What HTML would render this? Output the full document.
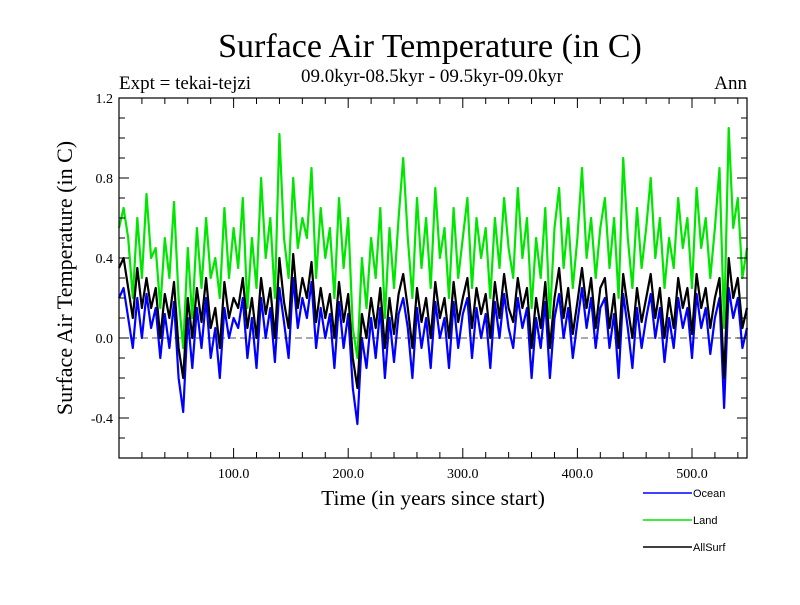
<!DOCTYPE html>
<html><head><meta charset="utf-8"><style>
body{margin:0;background:#fff;width:800px;height:600px;overflow:hidden}
svg text{font-family:"Liberation Serif",serif;fill:#000}
</style></head><body>
<svg id="chart" width="800" height="600" xmlns="http://www.w3.org/2000/svg">
<text x="430" y="57" font-size="34" text-anchor="middle">Surface Air Temperature (in C)</text>
<text x="432" y="82" font-size="19" text-anchor="middle">09.0kyr-08.5kyr - 09.5kyr-09.0kyr</text>
<text x="119" y="89" font-size="19">Expt = tekai-tejzi</text>
<text x="747" y="89" font-size="19" text-anchor="end">Ann</text>
<text transform="translate(72,278) rotate(-90)" font-size="22" text-anchor="middle">Surface Air Temperature (in C)</text>
<text x="433" y="505" font-size="21.5" text-anchor="middle">Time (in years since start)</text>
<g id="plot"></g>
<g id="legend"></g>
</svg>
<script>
const years=[];for(let i=0;i<138;i++)years.push(i*4);
const land=[0.55,0.65,0.5,0.2,0.6,0.3,0.72,0.4,0.45,0.15,0.5,
0.3,0.68,0.2,-0.05,0.45,0.1,0.55,0.25,0.6,0.3,0.4,0.2,0.65,0.3,0.55,
0.35,0.7,0.15,0.5,0.25,0.8,0.4,0.6,0.2,1.02,0.5,0.3,0.8,0.45,0.6,
0.5,0.85,0.3,0.65,0.4,0.55,0.2,0.7,0.35,0.6,0.05,-0.1,0.4,0.15,0.5,
0.3,0.65,0.1,0.55,0.25,0.6,0.9,0.5,0.2,0.7,0.35,0.6,0.25,0.75,0.4,
0.55,0.2,0.65,0.3,0.5,0.7,0.25,0.6,0.4,0.55,0.2,0.6,0.35,0.7,0.45,
0.3,0.75,0.4,0.6,0.15,0.5,0.3,0.65,0.1,0.55,0.75,0.35,0.6,0.25,0.5,
0.85,0.4,0.6,0.3,0.55,0.7,0.35,0.6,0.2,0.9,0.5,0.25,0.65,0.35,0.55,
0.8,0.4,0.6,0.25,0.5,0.35,0.7,0.45,0.6,0.25,0.75,0.45,0.6,0.3,0.55,
0.85,0.05,1.05,0.55,0.7,0.3,0.45];
const ocean=[0.2,0.25,0.1,-0.05,0.2,0.0,0.22,0.05,0.15,-0.1,0.12,
-0.05,0.18,-0.2,-0.37,0.1,-0.15,0.15,-0.05,0.2,-0.1,0.05,-0.2,0.15,0.0,0.1,
0.05,0.2,-0.1,0.1,-0.15,0.2,0.0,0.15,-0.12,0.25,0.08,-0.1,0.3,0.05,0.2,
0.1,0.28,-0.05,0.15,0.0,0.12,-0.15,0.18,-0.05,0.12,-0.25,-0.43,0.0,-0.15,0.1,
-0.1,0.15,-0.2,0.1,-0.12,0.12,0.2,0.05,-0.2,0.15,-0.05,0.1,-0.15,0.18,0.0,
0.1,-0.15,0.18,-0.05,0.12,0.2,-0.1,0.15,0.0,0.12,-0.15,0.18,0.0,0.22,0.05,
-0.05,0.2,0.05,0.15,-0.2,0.1,-0.05,0.18,-0.2,0.1,0.22,0.0,0.15,-0.1,0.08,
0.25,0.05,0.2,-0.05,0.15,0.2,-0.05,0.12,-0.2,0.22,0.05,-0.15,0.15,-0.05,0.1,
0.22,0.0,0.15,-0.12,0.1,-0.05,0.2,0.05,0.15,-0.1,0.22,0.05,0.15,-0.08,0.1,
0.2,-0.35,0.25,0.1,0.2,-0.05,0.05];
const allsurf=[0.35,0.4,0.25,0.1,0.35,0.15,0.3,0.15,0.25,0.0,0.22,
0.1,0.28,-0.05,-0.2,0.2,0.0,0.25,0.08,0.3,0.05,0.15,-0.05,0.28,0.1,0.2,
0.15,0.3,0.05,0.2,0.0,0.3,0.12,0.25,0.0,0.4,0.18,0.05,0.42,0.15,0.3,
0.2,0.38,0.08,0.25,0.1,0.22,0.0,0.28,0.08,0.22,-0.1,-0.25,0.12,0.0,0.2,
0.05,0.25,-0.05,0.2,0.02,0.22,0.32,0.15,-0.05,0.25,0.08,0.2,0.0,0.28,0.1,
0.2,0.0,0.28,0.08,0.2,0.3,0.05,0.25,0.12,0.22,0.0,0.28,0.1,0.32,0.15,
0.08,0.3,0.15,0.25,-0.05,0.2,0.05,0.28,-0.05,0.2,0.35,0.1,0.25,0.02,0.18,
0.35,0.15,0.3,0.05,0.25,0.3,0.05,0.22,-0.05,0.32,0.15,0.0,0.25,0.08,0.2,
0.32,0.1,0.25,0.0,0.2,0.05,0.3,0.15,0.25,0.02,0.32,0.15,0.25,0.05,0.2,
0.3,-0.2,0.4,0.2,0.3,0.05,0.15];
const xTicks=[100,200,300,400,500];
const xTickLabels=["100.0","200.0","300.0","400.0","500.0"];
const yTicks=[1.2,0.8,0.4,0.0,-0.4];
const yTickLabels=["1.2","0.8","0.4","0.0","-0.4"];
const seriesNames=["Ocean","Land","AllSurf"];

const L=119,R=747,T=98,B=458,X0=0,X1=548,Y0=-0.6,Y1=1.2;
const xs=v=>L+(v-X0)/(X1-X0)*(R-L);
const ys=v=>B-(v-Y0)/(Y1-Y0)*(B-T);
const NS="http://www.w3.org/2000/svg";
const plot=document.getElementById('plot');
function mk(tag,attrs,parent){const e=document.createElementNS(NS,tag);for(const k in attrs)e.setAttribute(k,attrs[k]);(parent||plot).appendChild(e);return e;}

const zl=mk('line',{x1:L,x2:R,y1:ys(0),y2:ys(0),stroke:'#555','stroke-width':1,'stroke-dasharray':'7,4'});



const colors={Ocean:'#0000ff',Land:'#00e600',AllSurf:'#000000'};
const data={Ocean:ocean,Land:land,AllSurf:allsurf};
seriesNames.forEach(n=>{
  const d=data[n].map((v,i)=>(i?'L':'M')+xs(years[i]).toFixed(1)+','+ys(v).toFixed(1)).join('');
  const p=mk('path',{d:d,fill:'none',stroke:colors[n],'stroke-width':2.2,'stroke-linejoin':'round'});
  
  
});

const frame=mk('rect',{x:L,y:T,width:R-L,height:B-T,fill:'none',stroke:'#000','stroke-width':1.2});



for(let v=20;v<X1;v+=20){
  const major=v%100===0,len=major?10:6;
  mk('line',{x1:xs(v),x2:xs(v),y1:B,y2:B-len,stroke:'#000'});
  mk('line',{x1:xs(v),x2:xs(v),y1:T,y2:T+len,stroke:'#000'});
}
xTicks.forEach((v,i)=>{
  const t=mk('text',{x:xs(v),y:B+20,'font-size':14,'text-anchor':'middle'});
  t.textContent=xTickLabels[i];
  
  
});
for(let k=-5;k<=11;k++){
  const v=k/10,major=(k%4===0),len=major?10:6;
  mk('line',{x1:L,x2:L+len,y1:ys(v),y2:ys(v),stroke:'#000'});
  mk('line',{x1:R,x2:R-len,y1:ys(v),y2:ys(v),stroke:'#000'});
}
yTicks.forEach((v,i)=>{
  const t=mk('text',{x:L-6,y:ys(v)+5,'font-size':14,'text-anchor':'end'});
  t.textContent=yTickLabels[i];
  
  
});

const lg=document.getElementById('legend');
seriesNames.forEach((n,i)=>{
  const y=493+i*27;
  const ln=mk('line',{x1:643,x2:692,y1:y,y2:y,stroke:colors[n],'stroke-width':1.5},lg);
  
  
  const t=mk('text',{x:693,y:y+4,'font-size':11,style:'font-family:"Liberation Sans",sans-serif'},lg);
  t.textContent=n;
  
  
});
</script>
</body></html>
